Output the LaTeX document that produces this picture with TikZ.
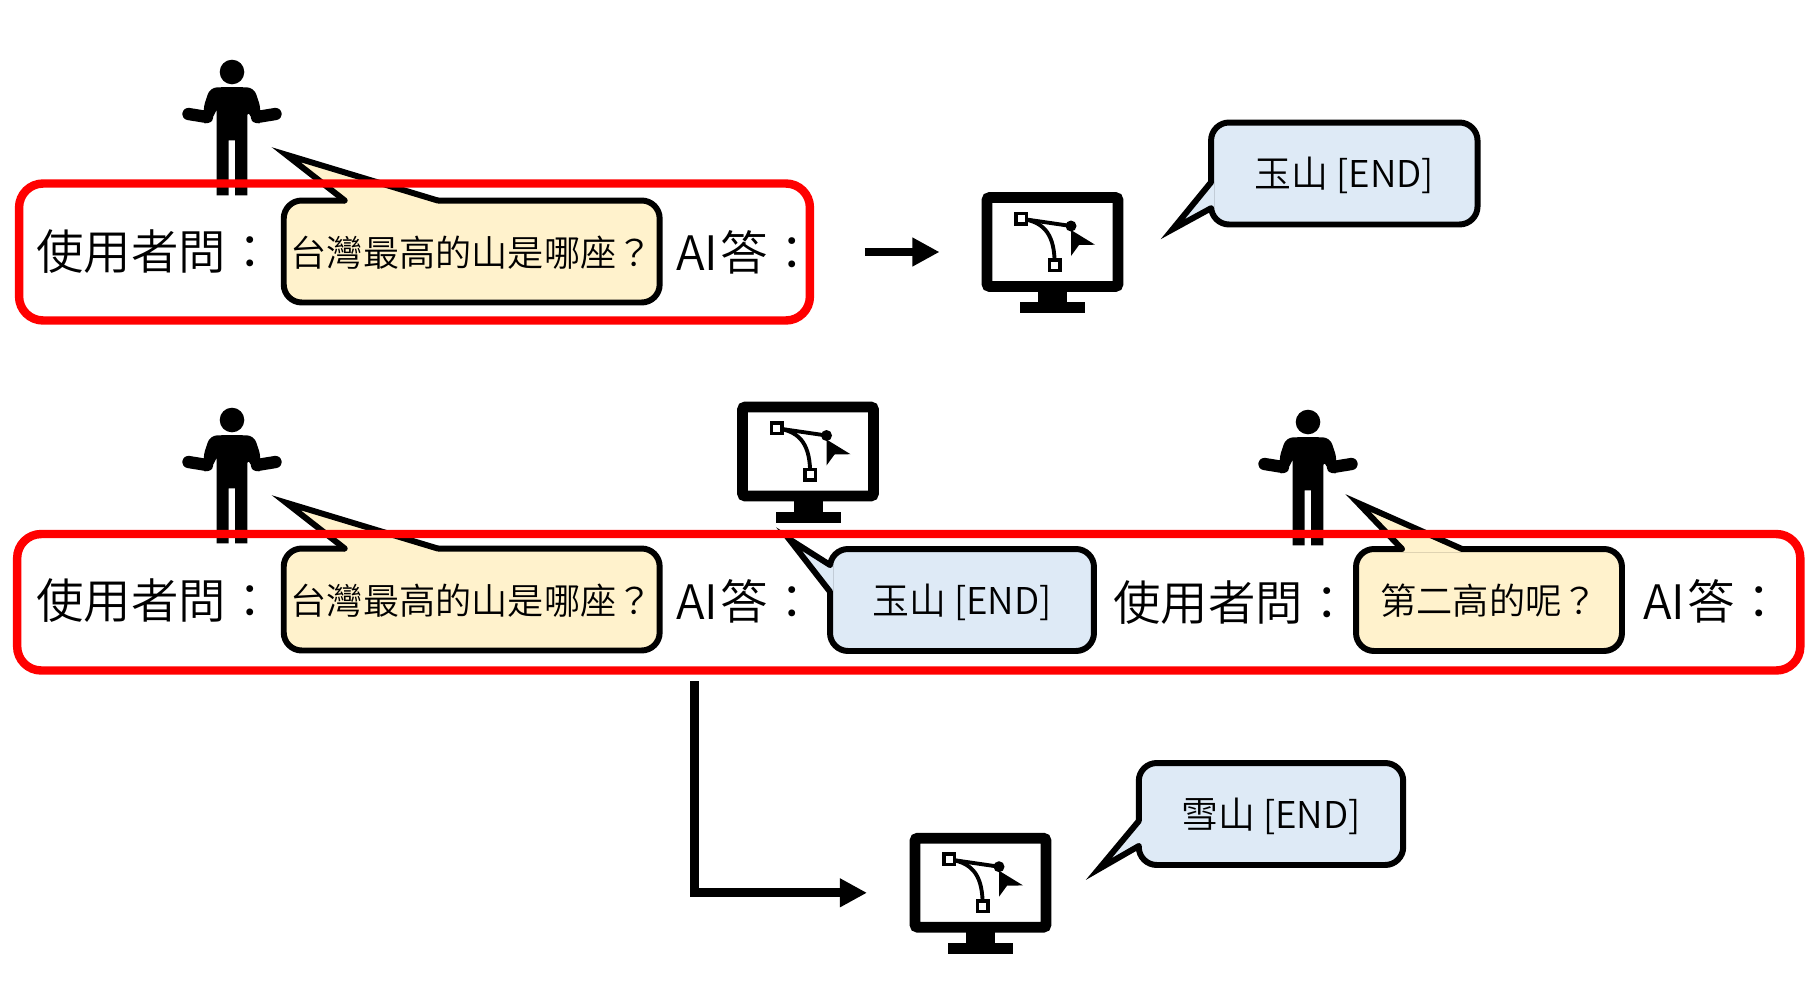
\documentclass[tikz,border=0pt]{standalone}
\usepackage{fontspec}
\usetikzlibrary{arrows.meta,calc}
\setmainfont{Noto Sans CJK TC}[UprightFont=* DemiLight]
\definecolor{askfill}{HTML}{FFF2CC}
\definecolor{replyfill}{HTML}{DEEAF6}
\definecolor{framered}{HTML}{FF0000}
\newcommand{\bubbletail}[4]{%
  \fill[#1] (#2) -- (#3) -- (#4) -- cycle;
  \draw[#1,line width=3.4pt] (#2) -- (#4);
  \draw[line width=3.4pt,line cap=round,miter limit=10] (#2) -- (#3) -- (#4);}
\tikzset{
  pics/person/.style={code={
    \fill (0,0) circle (12.3);
    \fill (0,15) [rounded corners=4pt] -- (22,15.5) -- (29.3,37.7) -- (26,51) -- (21,49.3) -- (15.3,37.7)
      [sharp corners] -- (15.3,123.3) -- (3,123.3) -- (3,68.3) -- (-3.3,68.3) -- (-3.3,123.3) -- (-15.3,123.3) -- (-15.3,37.7)
      [rounded corners=4pt] -- (-21,49.3) -- (-26,51) -- (-29.3,37.7) -- (-22,15.5) -- cycle;
    \draw[line width=7pt,line cap=round] (25,45) -- (43.5,42);
    \draw[line width=7pt,line cap=round] (-25,45) -- (-43.5,42);
  }},
  pics/monitor/.style={code={
    \node[screen] (-screen) at (0,0) {};
    \fill (-14.5,49) rectangle (14.5,61);
    \fill (-32.5,60.3) rectangle (32.5,71.3);
    \draw[line width=2.2pt] (-31.5,-23.3) -- (18.5,-16);
    \draw[line width=2.2pt] (-31.5,-23.3) .. controls (-6,-20) and (2.2,-5) .. (2.2,23.3);
    \fill (18.5,-16) circle (5.5);
    \fill (18.5,-12) -- (42.5,2.7) -- (26.5,3) -- (18.5,14) -- cycle;
    \node[handle] (-from) at (-31.5,-23.3) {};
    \node[handle] (-to) at (2.2,23.3) {};
  }}
}
\begin{document}
\begin{tikzpicture}[
  x=0.02cm,y=-0.02cm,
  screen/.style={draw,fill=white,line width=6.1pt,rounded corners=1.5pt,minimum width=2.62cm,minimum height=1.78cm,inner sep=0pt,outer sep=0pt},
  handle/.style={draw,fill=white,line width=2pt,minimum size=0.21cm,inner sep=0pt},
  frame/.style={draw=framered,line width=4.8pt,rounded corners=0.48cm,inner sep=0pt,outer sep=0pt},
  ask/.style={draw,fill=askfill,line width=3.4pt,rounded corners=0.36cm,minimum height=2.04cm,inner sep=0pt,outer sep=0pt,text height=19.8pt,text depth=3pt,font=\fontsize{20.6}{24}\selectfont},
  reply/.style={draw,fill=replyfill,line width=3.4pt,rounded corners=0.36cm,minimum height=2.04cm,inner sep=0pt,outer sep=0pt,text height=19pt,text depth=3pt,font=\fontsize{21}{24}\selectfont},
  speaker/.style={anchor=west,inner sep=0pt,font=\fontsize{27}{30}\selectfont},
  arrow/.style={-{Triangle[length=15.4pt,width=15.4pt]},line width=5.1pt}
]
\useasboundingbox (0,0) rectangle (1820,981);

% first round
\pic at (232,72) {person};
\node[ask,minimum width=7.52cm] (ask1) at (471.7,251.5) {台灣最高的山是哪座？};
\bubbletail{askfill}{$(ask1.north west)+(61,0)$}{$(ask1.north west)+(2.4,-45.8)$}{$(ask1.north west)+(154,0)$}
\node[speaker] (user1) at (36,252) {使用者問：};
\node[speaker] (ai1) at (676,252) {AI\kern1.2pt 答：};
\node[frame,minimum width=15.82cm,minimum height=2.74cm] (frame1) at (414.5,252) {};
\pic (pc1) at (1052.5,242) {monitor};
\node[reply,minimum width=5.33cm] (reply1) at (1344.3,173.5) {玉山 [END]};
\bubbletail{replyfill}{$(reply1.north west)+(0,59.7)$}{$(reply1.north west)+(-38.4,106.7)$}{$(reply1.north west)+(0,85.7)$}
\draw[arrow,shorten <=1.1cm,shorten >=0.95cm] (frame1.east) -- (frame1.east -| pc1-screen.west);

% second round
\pic at (232,420) {person};
\pic at (1308,422) {person};
\pic (pc2) at (808,451.5) {monitor};
\node[ask,minimum width=7.52cm] (ask2) at (471.7,599.5) {台灣最高的山是哪座？};
\bubbletail{askfill}{$(ask2.north west)+(61,0)$}{$(ask2.north west)+(2.4,-45.8)$}{$(ask2.north west)+(154,0)$}
\node[reply,minimum width=5.28cm] (reply2) at (962,600) {玉山 [END]};
\bubbletail{replyfill}{$(reply2.north west)+(0,16)$}{$(reply2.north west)+(-41,-10)$}{$(reply2.north west)+(0,42.7)$}
\node[ask,minimum width=5.32cm] (ask3) at (1489,600) {第二高的呢？};
\bubbletail{askfill}{$(ask3.north west)+(46,0)$}{$(ask3.north west)+(2,-46)$}{$(ask3.north west)+(106,0)$}
\node[speaker] (user2) at (36,601) {使用者問：};
\node[speaker] (ai2) at (676,601) {AI\kern1.2pt 答：};
\node[speaker] (user3) at (1113,603) {使用者問：};
\node[speaker] (ai3) at (1643,601) {AI\kern1.2pt 答：};
\node[frame,minimum width=35.67cm,minimum height=2.73cm] (frame2) at (908.75,602.25) {};
\pic (pc3) at (980.5,882.7) {monitor};
\node[reply,minimum width=5.29cm] (reply3) at (1271,814) {雪山 [END]};
\bubbletail{replyfill}{$(reply3.north west)+(0,58)$}{$(reply3.north west)+(-40,106)$}{$(reply3.north west)+(0,83)$}
\coordinate (branch) at (694.4,681);
\coordinate (inlet) at (867,892.8);
\draw[arrow] (branch) |- (inlet);
\end{tikzpicture}
\end{document}
